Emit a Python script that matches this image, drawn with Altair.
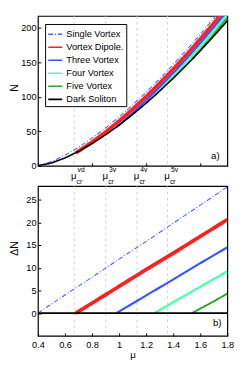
import altair as alt
import pandas as pd

FONT = "Liberation Sans"

series_names = ["Single Vortex", "Vortex Dipole.", "Three Vortex", "Four Vortex", "Five Vortex", "Dark Soliton"]
series_colors = ["#4466ff", "#ff1f1f", "#3355ff", "#4dffaa", "#2ea32e", "#000000"]
series_dash = [[5, 2, 1, 2], [1, 0], [1, 0], [1, 0], [1, 0], [1, 0]]
series_width = [1.1, 3.8, 2.2, 2.4, 2.0, 1.6]

# ---- panel a): N(mu) ----
mu_single = [0.4, 0.5, 0.6, 0.7, 0.8, 0.9, 1.0, 1.1, 1.2, 1.3, 1.4, 1.5, 1.6, 1.7, 1.8]
N_single = [0, 6.0, 15.3, 26.7, 40.0, 54.7, 70.8, 88.2, 106.5, 126.1, 146.6, 168.1, 190.5, 213.6, 237.7]

mu_dipole = [0.68, 0.7, 0.8, 0.9, 1.0, 1.1, 1.2, 1.3, 1.4, 1.5, 1.6, 1.7, 1.8]
N_dipole = [18.8, 21.2, 34.3, 48.8, 64.8, 82.0, 100.3, 119.7, 140.0, 161.4, 183.6, 206.7, 230.6]

mu_three = [0.98, 1.0, 1.1, 1.2, 1.3, 1.4, 1.5, 1.6, 1.7, 1.8]
N_three = [56.0, 59.3, 76.4, 94.6, 114.0, 134.2, 155.5, 177.7, 200.6, 224.5]

mu_four = [1.26, 1.3, 1.4, 1.5, 1.6, 1.7, 1.8]
N_four = [101.1, 109.0, 129.2, 150.4, 172.5, 195.4, 219.2]

mu_five = [1.54, 1.6, 1.7, 1.8]
N_five = [154.3, 167.7, 190.5, 214.3]

mu_dark = [0.4, 0.5, 0.6, 0.7, 0.8, 0.9, 1.0, 1.1, 1.2, 1.3, 1.4, 1.5, 1.6, 1.7, 1.8]
N_dark = [0, 4.0, 11.3, 20.8, 32.1, 44.8, 58.9, 74.3, 90.7, 108.3, 126.8, 146.3, 166.7, 187.9, 210.0]

# ---- panel b): Delta N(mu) ----
dmu_single = [0.4, 0.6, 0.8, 1.0, 1.2, 1.4, 1.6, 1.8]
dN_single = [0, 4.0, 7.9, 11.9, 15.8, 19.8, 23.8, 27.8]
dmu_dipole = [0.68, 0.8, 1.0, 1.2, 1.4, 1.6, 1.8]
dN_dipole = [0, 2.2, 5.9, 9.6, 13.2, 16.9, 20.6]
dmu_three = [0.98, 1.2, 1.4, 1.6, 1.8]
dN_three = [0, 3.9, 7.4, 11.0, 14.5]
dmu_four = [1.26, 1.4, 1.6, 1.8]
dN_four = [0, 2.4, 5.8, 9.2]
dmu_five = [1.54, 1.6, 1.7, 1.8]
dN_five = [0, 1.0, 2.6, 4.3]
dmu_dark = [0.4, 1.8]
dN_dark = [0, 0]

# critical chemical potentials
mu_cr = [0.668, 0.901, 1.132, 1.358]
mu_cr_tags = ["vd", "3v", "4v", "5v"]

x_ticks = [0.4, 0.6, 0.8, 1.0, 1.2, 1.4, 1.6, 1.8]
N_ticks = [0, 50, 100, 150, 200]
dN_ticks = [0, 5, 10, 15, 20, 25]

W, H = 196, 155

top_sets = [(mu_single, N_single), (mu_dipole, N_dipole), (mu_three, N_three),
            (mu_four, N_four), (mu_five, N_five), (mu_dark, N_dark)]
bot_sets = [(dmu_single, dN_single), (dmu_dipole, dN_dipole), (dmu_three, dN_three),
            (dmu_four, dN_four), (dmu_five, dN_five), (dmu_dark, dN_dark)]


def make_df(sets):
    rows = []
    for name, (xs, ys) in zip(series_names, sets):
        for i, (a, b) in enumerate(zip(xs, ys)):
            rows.append({"series": name, "mu": a, "v": b, "i": i})
    return pd.DataFrame(rows)


df_top = make_df(top_sets)
df_bot = make_df(bot_sets)
df_cr = pd.DataFrame({"mu": mu_cr, "tag": mu_cr_tags})

xscale = alt.Scale(domain=[0.4, 1.8], nice=False, zero=False)


def series_layers(df, yscale, yaxis, xaxis, show_legend):
    layers = []
    for name, w in zip(series_names, series_width):
        if show_legend:
            col = alt.Color("series:N", scale=alt.Scale(domain=series_names, range=series_colors),
                            legend=alt.Legend(orient="none", legendX=7.4, legendY=8.3, title=None,
                                              symbolType="stroke", symbolSize=210, symbolStrokeWidth=1.6,
                                              labelFont=FONT, labelFontSize=9.5, labelColor="black",
                                              padding=2, rowPadding=0.5, labelOffset=3,
                                              strokeColor="black", fillColor="white",
                                              cornerRadius=0))
            dash = alt.StrokeDash("series:N", scale=alt.Scale(domain=series_names, range=series_dash),
                                  legend=alt.Legend(orient="none", legendX=7.4, legendY=8.3, title=None))
        else:
            col = alt.Color("series:N", scale=alt.Scale(domain=series_names, range=series_colors), legend=None)
            dash = alt.StrokeDash("series:N", scale=alt.Scale(domain=series_names, range=series_dash), legend=None)
        layers.append(
            alt.Chart(df).transform_filter(alt.datum.series == name).mark_line(clip=True, strokeWidth=w).encode(
                x=alt.X("mu:Q", scale=xscale, axis=xaxis),
                y=alt.Y("v:Q", scale=yscale, axis=yaxis),
                order="i:Q", color=col, strokeDash=dash,
            )
        )
    return layers


common_axis = dict(labelFont=FONT, labelFontSize=9.5, labelColor="black", tickColor="black",
                   tickSize=3, offset=-3, domain=False, grid=False, titleFont=FONT,
                   titleFontWeight="normal", titleColor="black", labelOverlap=False, labelBound=False)


def vlines(xaxis):
    return alt.Chart(df_cr).mark_rule(color="#c8c8c8", strokeDash=[3, 3], strokeWidth=0.8).encode(
        x=alt.X("mu:Q", scale=xscale, axis=xaxis), y=alt.value(0), y2=alt.value(H)
    )


# ---------- top panel ----------
yscale_top = alt.Scale(domain=[0, 217], nice=False)
xaxis_top = alt.Axis(values=x_ticks, labels=False, title=None,
                     **{k: v for k, v in common_axis.items() if not k.startswith("label")})
yaxis_top = alt.Axis(values=N_ticks, title="N", titleFontSize=11, titleX=-27, titleY=74, titleAngle=-90,
                     titleBaseline="middle", titleAlign="center", labelPadding=2, **common_axis)

mu_lab = alt.Chart(df_cr).mark_text(text="μ", font=FONT, fontSize=10, align="center", baseline="middle", dx=-0.5).encode(
    x=alt.X("mu:Q", scale=xscale), y=alt.value(H + 11))
cr_lab = alt.Chart(df_cr).mark_text(text="cr", font=FONT, fontSize=7, align="left", baseline="middle", dx=2.5).encode(
    x=alt.X("mu:Q", scale=xscale), y=alt.value(H + 17))
sup_lab = alt.Chart(df_cr).mark_text(font=FONT, fontSize=7, align="left", baseline="middle", dx=3.5).encode(
    x=alt.X("mu:Q", scale=xscale), y=alt.value(H + 4.5), text="tag:N")
a_lab = alt.Chart(df_cr).transform_filter(alt.datum.tag == "vd").mark_text(
    text="a)", font=FONT, fontSize=10, align="right", baseline="middle").encode(
    x=alt.value(188), y=alt.value(H - 10))

top = alt.layer(
    vlines(xaxis_top),
    *series_layers(df_top, yscale_top, yaxis_top, xaxis_top, True),
    mu_lab, cr_lab, sup_lab, a_lab,
).properties(width=W, height=H)

# ---------- bottom panel ----------
yscale_bot = alt.Scale(domain=[-5, 28], nice=False, zero=False)
xaxis_bot = alt.Axis(values=x_ticks, title="μ", titleFontSize=10, titlePadding=1, labelPadding=4,
                     labelExpr="datum.value == 1 ? '1' : format(datum.value, '.1f')",
                     labelFlush=False, **common_axis)
yaxis_bot = alt.Axis(values=dN_ticks, title="ΔN", titleFontSize=11, titleX=-27, titleY=64, titleAngle=-90,
                     titleBaseline="middle", titleAlign="center", labelPadding=2, **common_axis)

b_lab = alt.Chart(df_cr).transform_filter(alt.datum.tag == "vd").mark_text(
    text="b)", font=FONT, fontSize=10, align="right", baseline="middle").encode(
    x=alt.value(190), y=alt.value(H - 13))

bottom = alt.layer(
    vlines(xaxis_bot),
    *series_layers(df_bot, yscale_bot, yaxis_bot, xaxis_bot, False),
    b_lab,
).properties(width=W, height=H)

chart = alt.vconcat(top, bottom, spacing=21, bounds="flush").resolve_scale(
    color="independent", strokeDash="independent"
).properties(
    padding={"left": 0, "top": 1, "right": 2, "bottom": 0}
).configure_view(stroke="black", strokeWidth=1.2)

chart.save("out.html", embed_options={"renderer": "svg", "actions": False})
